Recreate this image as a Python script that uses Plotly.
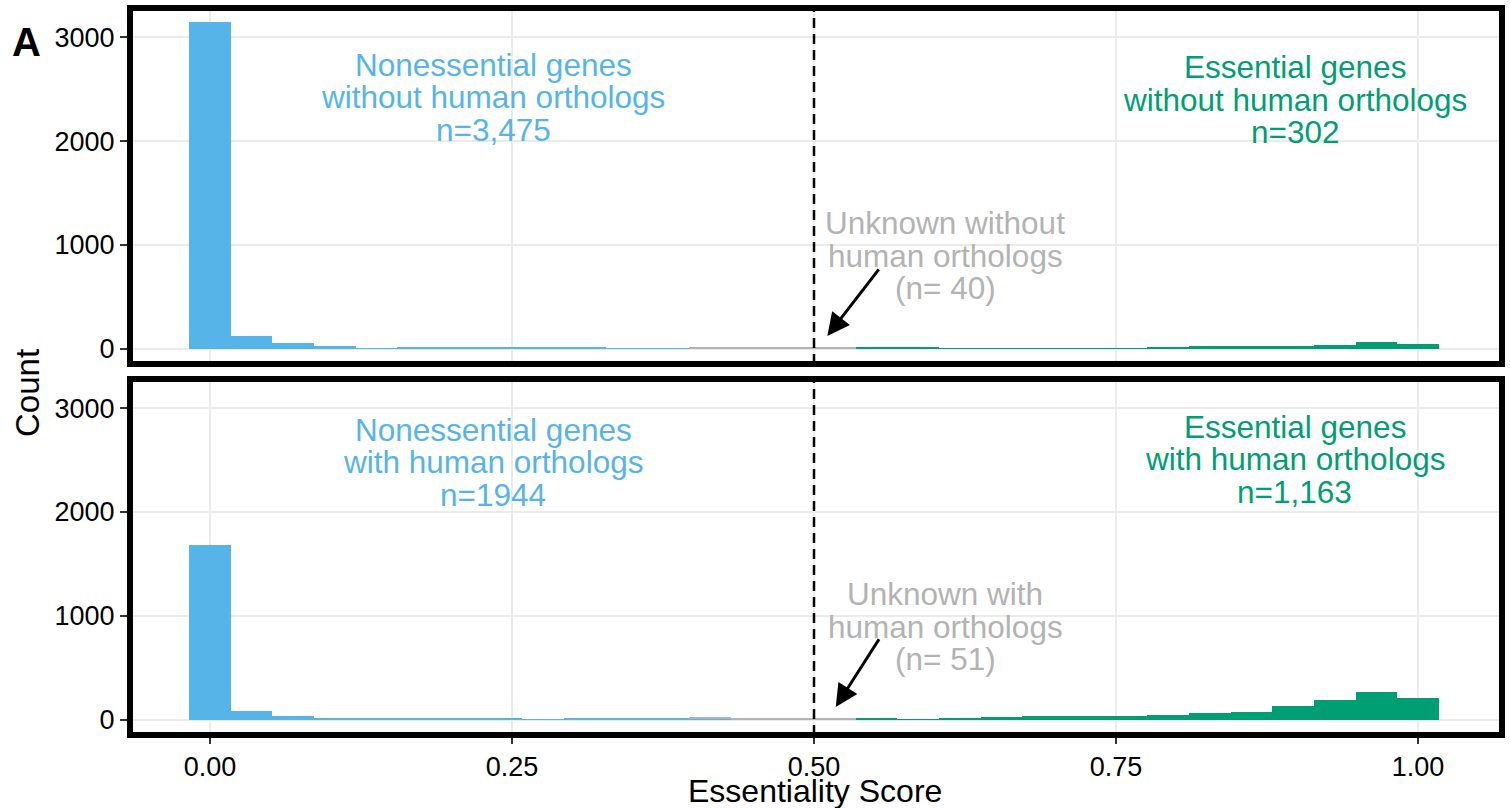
import plotly.graph_objects as go
from plotly.subplots import make_subplots

# ---------------- data ----------------
n_bins = 30
bin_centers = [k / 29 for k in range(n_bins)]
bin_width = 1 / 29

# top panel: genes without human orthologs
nonessential_without = [3145, 128, 61, 32, 8, 15, 15, 15, 15, 15, 8, 8, 6, 4,
                        0, 0, 0, 0, 0, 0, 0, 0, 0, 0, 0, 0, 0, 0, 0, 0]
unknown_without = [0] * 12 + [4, 6, 12, 12, 6] + [0] * 13
essential_without = [0] * 16 + [12, 14, 8, 5, 7, 5, 5, 15, 28, 28, 24, 42, 65, 44]

# bottom panel: genes with human orthologs
nonessential_with = [1680, 85, 35, 13, 13, 13, 13, 13, 5, 14, 14, 22, 18, 6,
                     0, 0, 0, 0, 0, 0, 0, 0, 0, 0, 0, 0, 0, 0, 0, 0]
unknown_with = [0] * 12 + [5, 12, 14, 12, 8] + [0] * 13
essential_with = [0] * 16 + [14, 6, 12, 25, 35, 35, 35, 45, 64, 80, 131, 195, 272, 214]

x_ticks = [0, 0.25, 0.5, 0.75, 1.0]
x_tick_labels = ["0.00", "0.25", "0.50", "0.75", "1.00"]
y_ticks = [0, 1000, 2000, 3000]
y_tick_labels = ["0", "1000", "2000", "3000"]

labels_top = {
    "non": ["Nonessential genes", "without human orthologs", "n=3,475"],
    "ess": ["Essential genes", "without human orthologs", "n=302"],
    "unk": ["Unknown without", "human orthologs", "(n= 40)"],
}
labels_bot = {
    "non": ["Nonessential genes", "with human orthologs", "n=1944"],
    "ess": ["Essential genes", "with human orthologs", "n=1,163"],
    "unk": ["Unknown with", "human orthologs", "(n= 51)"],
}

BLUE = "#56B4E9"
GREEN = "#009E73"
GREY = "#B3B3B3"
FONT = "Liberation Sans, Arial, sans-serif"

fig = make_subplots(rows=2, cols=1, shared_xaxes=True, vertical_spacing=0.0206)

panels = [
    (1, nonessential_without, unknown_without, essential_without),
    (2, nonessential_with, unknown_with, essential_with),
]
for row, non, unk, ess in panels:
    for vals, col, name in [(non, BLUE, "Nonessential"), (unk, GREY, "Unknown"), (ess, GREEN, "Essential")]:
        fig.add_trace(go.Bar(x=bin_centers, y=vals, width=bin_width, marker=dict(color=col, line=dict(width=0)),
                             name=name, showlegend=False), row=row, col=1)

fig.update_layout(
    barmode="stack",
    bargap=0,
    width=1510, height=808,
    margin=dict(l=130, r=8, t=8, b=73),
    paper_bgcolor="white",
    plot_bgcolor="white",
    font=dict(family=FONT, color="black"),
)

xrange = [-0.0662, 1.0695]
yrange = [-145, 3280]
for r in (1, 2):
    fig.update_xaxes(range=xrange, tickvals=x_ticks, ticktext=x_tick_labels, showgrid=True,
                     gridcolor="#EBEBEB", gridwidth=2, zeroline=False, showline=False,
                     ticks="outside" if r == 2 else "", ticklen=8, tickwidth=2, tickcolor="#333333",
                     showticklabels=(r == 2), tickfont=dict(size=27, color="black", family=FONT),
                     row=r, col=1)
    fig.update_yaxes(range=yrange, tickvals=y_ticks, ticktext=y_tick_labels, showgrid=True,
                     gridcolor="#EBEBEB", gridwidth=2, zeroline=False, showline=False,
                     ticks="outside", ticklen=9, tickwidth=2, tickcolor="#333333",
                     tickfont=dict(size=27, color="black", family=FONT), row=r, col=1)

# dashed threshold line and panel frames
for xr, yr in [("x", "y"), ("x2", "y2")]:
    fig.add_shape(type="line", xref=xr, yref=yr + " domain", x0=0.5, x1=0.5, y0=0, y1=1,
                  line=dict(color="black", width=2.5, dash="10px,6px"))
    fig.add_shape(type="rect", xref=xr + " domain", yref=yr + " domain", x0=0, x1=1, y0=0, y1=1,
                  line=dict(color="black", width=6), fillcolor="rgba(0,0,0,0)")

ann = []
line_gap = 312  # data units between text lines (~32.5 px)


def add_block(lines, x, y_first, yref, color):
    for i, t in enumerate(lines):
        ann.append(dict(x=x, y=y_first - i * line_gap, xref="x", yref=yref, text=t, showarrow=False,
                        font=dict(size=31.5, color=color, family=FONT), xanchor="center", yanchor="middle"))


add_block(labels_top["non"], 0.2343, 2732, "y", BLUE)
add_block(labels_top["ess"], 0.898, 2710, "y", GREEN)
add_block(labels_top["unk"], 0.6085, 1208, "y", GREY)
add_block(labels_bot["non"], 0.2343, 2790, "y2", BLUE)
add_block(labels_bot["ess"], 0.898, 2818, "y2", GREEN)
add_block(labels_bot["unk"], 0.6085, 1208, "y2", GREY)

# arrows pointing at unknown bins
ann.append(dict(x=0.511, y=125, xref="x", yref="y", ax=0.5546, ay=780, axref="x", ayref="y",
                showarrow=True, arrowhead=2, arrowsize=1.5, arrowwidth=3, arrowcolor="black", text=""))
ann.append(dict(x=0.518, y=125, xref="x2", yref="y2", ax=0.5546, ay=790, axref="x2", ayref="y2",
                showarrow=True, arrowhead=2, arrowsize=1.5, arrowwidth=3, arrowcolor="black", text=""))

# axis titles and panel tag
ann.append(dict(x=27, y=393, xref="paper", yref="paper", text="Count", showarrow=False, textangle=-90,
                font=dict(size=33, color="black", family=FONT)))
ann.append(dict(x=815, y=791, xref="paper", yref="paper", text="Essentiality Score", showarrow=False,
                font=dict(size=32, color="black", family=FONT)))
ann.append(dict(x=26, y=42, xref="paper", yref="paper", text="<b>A</b>", showarrow=False,
                font=dict(size=40, color="black", family=FONT)))

# convert pixel-placed annotations to paper coords
plot_w = 1510 - 130 - 8
plot_h = 808 - 8 - 73
for a in ann:
    if a["xref"] == "paper":
        a["x"] = (a["x"] - 130) / plot_w
        a["y"] = (808 - 73 - a["y"]) / plot_h
        a["xanchor"] = "center"
        a["yanchor"] = "middle"
fig.update_layout(annotations=ann)

fig.write_html("out.html", config={"displayModeBar": False},
               post_script="document.body.style.margin='0';document.body.style.overflow='hidden';")
